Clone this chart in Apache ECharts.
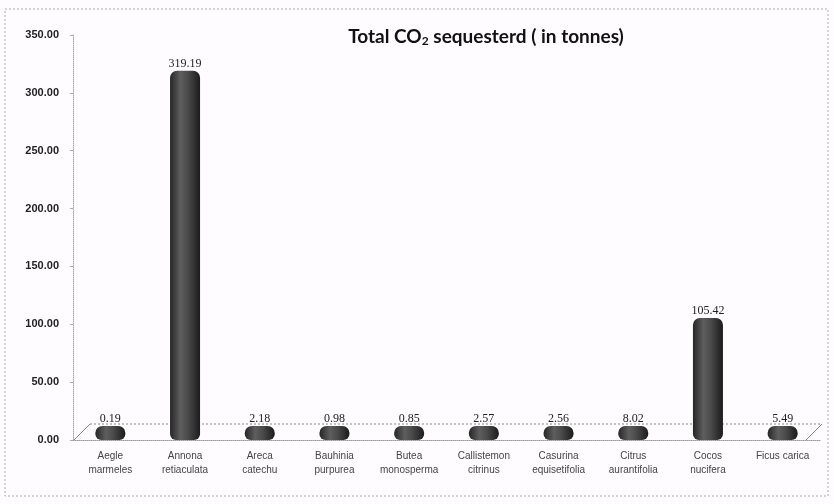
<!DOCTYPE html>
<html>
<head>
<meta charset="utf-8">
<script src="https://cdn.jsdelivr.net/npm/echarts@6/dist/echarts.min.js"></script>
<style>
  html, body { margin: 0; padding: 0; background: #fff; }
  #chart { width: 834px; height: 504px; }
</style>
</head>
<body>
<div id="chart"></div>
<script>
// species (x axis)
const species = [
  "Aegle\nmarmeles", "Annona\nretiaculata", "Areca\ncatechu", "Bauhinia\npurpurea",
  "Butea\nmonosperma", "Callistemon\ncitrinus", "Casurina\nequisetifolia",
  "Citrus\naurantifolia", "Cocos\nnucifera", "Ficus carica"
];
// CO2 sequestered, tonnes
const co2 = [0.19, 319.19, 2.18, 0.98, 0.85, 2.57, 2.56, 8.02, 105.42, 5.49];
// y axis
const yMin = 0, yMax = 350, yStep = 50;

const chart = echarts.init(document.getElementById("chart"));

// cylinder look
const barColor = new echarts.graphic.LinearGradient(0, 0, 1, 0, [
  { offset: 0, color: "#262626" },
  { offset: 0.35, color: "#5e5e5e" },
  { offset: 0.6, color: "#4a4a4a" },
  { offset: 1, color: "#1b1b1b" }
]);

const option = {
  backgroundColor: "#fefcfe",
  animation: false,
  title: {
    text: "Total CO{sub|2} sequesterd ( in tonnes)",
    left: 481,
    top: 21,
    textAlign: "center",
    textStyle: {
      fontFamily: "Lato",
      fontSize: 19,
      fontWeight: "bold",
      color: "#111",
      rich: {
        sub: { fontFamily: "Lato", fontSize: 12, fontWeight: "bold", color: "#111", padding: [9, 0, 0, 0] }
      }
    }
  },
  grid: { left: 73, right: 14, top: 35, bottom: 64, containLabel: false },
  xAxis: {
    type: "category",
    data: species,
    axisLine: { lineStyle: { color: "#999", type: "dotted" } },
    axisTick: { show: false },
    axisLabel: {
      interval: 0,
      margin: 9,
      fontFamily: "Liberation Sans Narrow, Liberation Sans",
      fontSize: 10,
      lineHeight: 14,
      color: "#444"
    }
  },
  yAxis: {
    type: "value",
    min: yMin,
    max: yMax,
    interval: yStep,
    axisLine: { show: true, lineStyle: { color: "#aaa", type: "dotted" } },
    axisTick: { show: true, length: 3, lineStyle: { color: "#aaa" } },
    splitLine: { show: false },
    axisLabel: {
      margin: 14,
      formatter: v => v.toFixed(2),
      fontFamily: "Liberation Sans Narrow, Liberation Sans",
      fontWeight: "bold",
      fontSize: 11,
      color: "#222"
    }
  },
  series: [{
    type: "bar",
    data: co2,
    barWidth: 30,
    barMinHeight: 14,
    itemStyle: { color: barColor, borderRadius: [7, 7, 6, 6] },
    label: {
      show: true,
      position: "top",
      distance: 1,
      formatter: p => p.value.toFixed(2),
      fontFamily: "Liberation Serif",
      fontSize: 12,
      color: "#222"
    }
  }],
  graphic: [
    // back floor edge of the 3D plot
    { type: "line", shape: { x1: 90, y1: 424, x2: 822, y2: 424 },
      style: { stroke: "#888", lineDash: [2, 2], lineWidth: 1 } },
    { type: "line", shape: { x1: 74, y1: 440, x2: 90, y2: 424 },
      style: { stroke: "#888", lineWidth: 1 } },
    { type: "line", shape: { x1: 806, y1: 440, x2: 822, y2: 424 },
      style: { stroke: "#888", lineWidth: 1 } },
    // outer frame
    { type: "rect", shape: { x: 5, y: 9, width: 823, height: 487 },
      style: { fill: null, stroke: "#aaa", lineDash: [2, 2], lineWidth: 1 } }
  ]
};

chart.setOption(option);
</script>
</body>
</html>
